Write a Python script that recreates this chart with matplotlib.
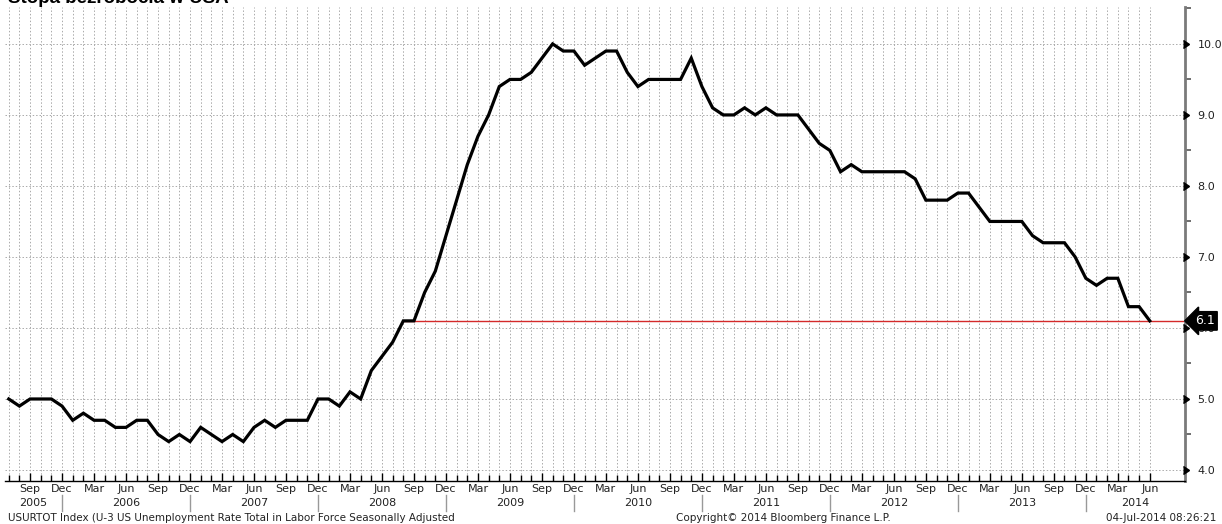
import numpy as np
import matplotlib.pyplot as plt
import matplotlib.transforms as mtransforms

# ============================================================
# 1. Dane: stopa bezrobocia w USA (U-3), miesięcznie od lipca 2005
# ============================================================
start_year = 2005
start_month = 7
rate = [
    5.0, 4.9, 5.0, 5.0, 5.0, 4.9,                                # 2005 Jul-Dec
    4.7, 4.8, 4.7, 4.7, 4.6, 4.6, 4.7, 4.7, 4.5, 4.4, 4.5, 4.4,  # 2006
    4.6, 4.5, 4.4, 4.5, 4.4, 4.6, 4.7, 4.6, 4.7, 4.7, 4.7, 5.0,  # 2007
    5.0, 4.9, 5.1, 5.0, 5.4, 5.6, 5.8, 6.1, 6.1, 6.5, 6.8, 7.3,  # 2008
    7.8, 8.3, 8.7, 9.0, 9.4, 9.5, 9.5, 9.6, 9.8, 10.0, 9.9, 9.9, # 2009
    9.7, 9.8, 9.9, 9.9, 9.6, 9.4, 9.5, 9.5, 9.5, 9.5, 9.8, 9.4,  # 2010
    9.1, 9.0, 9.0, 9.1, 9.0, 9.1, 9.0, 9.0, 9.0, 8.8, 8.6, 8.5,  # 2011
    8.2, 8.3, 8.2, 8.2, 8.2, 8.2, 8.2, 8.1, 7.8, 7.8, 7.8, 7.9,  # 2012
    7.9, 7.7, 7.5, 7.5, 7.5, 7.5, 7.3, 7.2, 7.2, 7.2, 7.0, 6.7,  # 2013
    6.6, 6.7, 6.7, 6.3, 6.3, 6.1,                                # 2014 Jan-Jun
]
month_names = ['Jan', 'Feb', 'Mar', 'Apr', 'May', 'Jun',
               'Jul', 'Aug', 'Sep', 'Oct', 'Nov', 'Dec']
y_ticks = [4.0, 5.0, 6.0, 7.0, 8.0, 9.0, 10.0]

title = 'Stopa bezrobocia w USA'
footer_left = 'USURTOT Index (U-3 US Unemployment Rate Total in Labor Force Seasonally Adjusted'
footer_mid = 'Copyright\u00a9 2014 Bloomberg Finance L.P.'
footer_right = '04-Jul-2014 08:26:21'

# ============================================================
# 2. Pozycje miesięcy
# ============================================================
x = np.arange(len(rate))
months = [(start_month - 1 + i) % 12 + 1 for i in x]
years = [start_year + (start_month - 1 + i) // 12 for i in x]
last = rate[-1]

plt.rcParams['font.family'] = ['DejaVu Sans']

fig = plt.figure(figsize=(12.22, 5.24), dpi=100)
W, H = 1222, 524
ax = fig.add_axes([5 / W, 43 / H, 1180 / W, 474 / H])

x_lo, x_hi = -0.35, 110.3
ax.set_xlim(x_lo, x_hi)
ax.set_ylim(3.845, 10.52)

# siatka
grid_kw = dict(color='#aaaaaa', linewidth=0.7, linestyle=(0, (1.5, 2.0)), zorder=1)
for xi in x:
    ax.axvline(xi, **grid_kw)
for yv in y_ticks:
    ax.axhline(yv, **grid_kw)

# linia bieżącej wartości (od ostatniego razu, gdy stopa wynosiła tyle samo)
first_same = next(i for i, v in enumerate(rate) if v == last)
ax.hlines(last, first_same, x_hi, color='#d42a2a', linewidth=1.0, zorder=2)

ax.plot(x, rate, color='black', linewidth=2.3, solid_joinstyle='miter', zorder=3)

# ========== osie ==========
for s in ['left', 'top']:
    ax.spines[s].set_visible(False)
ax.spines['right'].set_color('#7a7a7a')
ax.spines['right'].set_linewidth(2.0)
ax.spines['bottom'].set_color('black')
ax.spines['bottom'].set_linewidth(1.0)

ax.yaxis.tick_right()
ax.set_yticks(y_ticks)
ax.set_yticklabels(['%.1f' % v for v in y_ticks])
ax.set_yticks(np.arange(4.5, 10.6, 1.0), minor=True)
ax.tick_params(axis='y', which='major', length=0, pad=9, labelsize=8, labelcolor='#222222')
ax.tick_params(axis='y', which='minor', length=4, width=1.2, color='#555555')
# strzałki przy głównych podziałkach
ytr = ax.get_yaxis_transform()
arrow_tr = ytr + mtransforms.ScaledTranslation(3.5 / 100, 0, fig.dpi_scale_trans)
ax.plot([1.0] * len(y_ticks), y_ticks, marker=5, markersize=6, color='black',
        linestyle='none', transform=arrow_tr, clip_on=False, zorder=4)

# oś X: podziałki miesięczne, etykiety kwartalne
q_idx = [i for i in x if months[i] in (3, 6, 9, 12)]
ax.set_xticks(q_idx)
ax.set_xticklabels([month_names[months[i] - 1] for i in q_idx])
ax.set_xticks(x, minor=True)
ax.tick_params(axis='x', which='major', direction='in', length=6, width=1.0,
               color='black', labelsize=8, pad=2, labelcolor='#222222')
ax.tick_params(axis='x', which='minor', direction='in', length=4, width=1.0, color='black')

# lata + separatory
xtr = ax.get_xaxis_transform()
dec_idx = [i for i in x if months[i] == 12]
bounds = [x_lo] + dec_idx + [x_hi]
for a, b in zip(bounds[:-1], bounds[1:]):
    yr = years[int(a) + 1] if a > x_lo else years[0]
    ax.text((a + b) / 2, -0.046, str(yr), transform=xtr, ha='center', va='center',
            fontsize=8, color='#222222')
for d in dec_idx:
    ax.plot([d, d], [-0.03, -0.063], transform=xtr, color='#999999', linewidth=1.0,
            clip_on=False)

# etykieta bieżącej wartości
ax.annotate('%.1f' % last, xy=(1.0, last), xycoords=ytr, xytext=(7, 0),
            textcoords='offset points', ha='left', va='center', fontsize=9,
            color='white', zorder=10, annotation_clip=False,
            bbox=dict(boxstyle='larrow,pad=0.22', fc='black', ec='black'))

# ========== tytuł i stopka ==========
fig.text(8 / W, 1 - 3 / H, title, fontsize=13.5, fontweight='bold',
         family='Liberation Sans', va='baseline', ha='left')
fig.text(8 / W, 1 - 518 / H, footer_left, fontsize=7.5, va='center', ha='left', color='#222222')
fig.text(676 / W, 1 - 518 / H, footer_mid, fontsize=7.5, va='center', ha='left', color='#222222')
fig.text(1216 / W, 1 - 518 / H, footer_right, fontsize=7.5, va='center', ha='right', color='#222222')

fig.savefig('out.png', dpi=100)
